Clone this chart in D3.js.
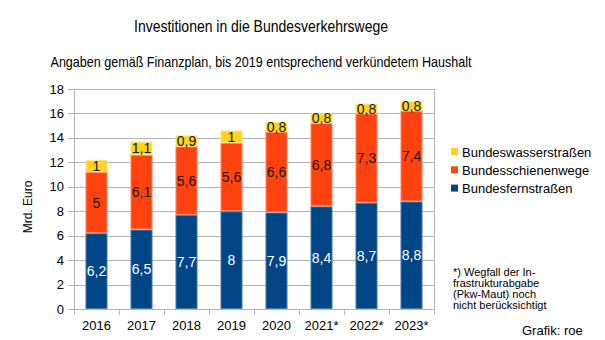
<!DOCTYPE html>
<html>
<head>
<meta charset="utf-8">
<script src="https://cdn.jsdelivr.net/npm/d3@7"></script>
<style>
  body { margin: 0; background: #fff; }
  svg { font-family: "Liberation Sans", Arial, sans-serif; }
</style>
</head>
<body>
<svg id="chart" width="605" height="340"></svg>
<script>
// Investitionen in Mrd. Euro je Verkehrsträger
var jahre = ["2016", "2017", "2018", "2019", "2020", "2021*", "2022*", "2023*"];
var fernstrassen = [6.2, 6.5, 7.7, 8, 7.9, 8.4, 8.7, 8.8];
var schienenwege = [5, 6.1, 5.6, 5.6, 6.6, 6.8, 7.3, 7.4];
var wasserstrassen = [1, 1.1, 0.9, 1, 0.8, 0.8, 0.8, 0.8];
var yTicks = [0, 2, 4, 6, 8, 10, 12, 14, 16, 18];

var reihen = [
    { name: "Bundesfernstraßen", werte: fernstrassen, farbe: "#004586", rand: "#4a7fb3", schrift: "#ffffff" },
    { name: "Bundesschienenwege", werte: schienenwege, farbe: "#ff420e", rand: "#ff8a66", schrift: "#1a1a1a" },
    { name: "Bundeswasserstraßen", werte: wasserstrassen, farbe: "#ffd320", rand: "#ffe680", schrift: "#1a1a1a" }
];

var svg = d3.select("#chart");
var plotLeft = 74, plotRight = 434, plotTop = 89, plotBottom = 309;

var x = d3.scaleBand().domain(jahre).range([plotLeft, plotRight]).paddingInner(0.51).paddingOuter(0.255);
var band = d3.scaleBand().domain(jahre).range([plotLeft, plotRight]);
var y = d3.scaleLinear().domain([0, 18]).range([plotBottom, plotTop]);

// titles (narrow font look)
svg.append("text")
    .attr("x", 261).attr("y", 32)
    .attr("text-anchor", "middle")
    .attr("textLength", 254)
    .attr("lengthAdjust", "spacingAndGlyphs")
    .style("font-size", "16px")
    .text("Investitionen in die Bundesverkehrswege");

svg.append("text")
    .attr("x", 261).attr("y", 67)
    .attr("text-anchor", "middle")
    .attr("textLength", 421)
    .attr("lengthAdjust", "spacingAndGlyphs")
    .style("font-size", "15px")
    .text("Angaben gemäß Finanzplan, bis 2019 entsprechend verkündetem Haushalt");

// gridlines
svg.append("g")
    .selectAll("line")
    .data(yTicks)
    .enter()
    .append("line")
    .attr("x1", plotLeft - 6).attr("x2", plotRight)
    .attr("y1", function (d) { return Math.round(y(d)) + 0.5; })
    .attr("y2", function (d) { return Math.round(y(d)) + 0.5; })
    .attr("stroke", "#b3b3b3")
    .attr("stroke-width", 1);

// frame lines left/right
svg.append("line")
    .attr("x1", plotLeft + 0.5).attr("x2", plotLeft + 0.5)
    .attr("y1", plotTop).attr("y2", plotBottom + 6)
    .attr("stroke", "#b3b3b3");
svg.append("line")
    .attr("x1", plotRight + 0.5).attr("x2", plotRight + 0.5)
    .attr("y1", plotTop).attr("y2", plotBottom + 6)
    .attr("stroke", "#b3b3b3");

// x ticks at band borders
svg.append("g")
    .selectAll("line")
    .data(jahre.slice(1))
    .enter()
    .append("line")
    .attr("x1", function (d) { return Math.round(band(d)) + 0.5; })
    .attr("x2", function (d) { return Math.round(band(d)) + 0.5; })
    .attr("y1", plotBottom).attr("y2", plotBottom + 6)
    .attr("stroke", "#b3b3b3");

// y tick labels
svg.append("g")
    .selectAll("text")
    .data(yTicks)
    .enter()
    .append("text")
    .attr("x", 64)
    .attr("y", function (d) { return y(d) + 4.5; })
    .attr("text-anchor", "end")
    .style("font-size", "13px")
    .text(function (d) { return d; });

// x labels
svg.append("g")
    .selectAll("text")
    .data(jahre)
    .enter()
    .append("text")
    .attr("x", function (d) { return x(d) + x.bandwidth() / 2; })
    .attr("y", 330)
    .attr("text-anchor", "middle")
    .style("font-size", "13px")
    .text(function (d) { return d; });

// y axis title
svg.append("text")
    .attr("transform", "translate(32,207) rotate(-90)")
    .attr("text-anchor", "middle")
    .style("font-size", "12px")
    .text("Mrd. Euro");

// stacked bars
var basis = jahre.map(function () { return 0; });
reihen.forEach(function (r) {
    var g = svg.append("g");
    var daten = jahre.map(function (j, i) {
        return { jahr: j, y0: basis[i], y1: basis[i] + r.werte[i], wert: r.werte[i] };
    });
    g.selectAll("rect")
        .data(daten)
        .enter()
        .append("rect")
        .attr("x", function (d) { return x(d.jahr) + 0.5; })
        .attr("y", function (d) { return y(d.y1) + 0.5; })
        .attr("width", x.bandwidth() - 1)
        .attr("height", function (d) { return y(d.y0) - y(d.y1) - 1; })
        .attr("fill", r.farbe)
        .attr("stroke", r.rand)
        .attr("stroke-width", 1);
    g.selectAll("text")
        .data(daten)
        .enter()
        .append("text")
        .attr("x", function (d) { return x(d.jahr) + x.bandwidth() / 2; })
        .attr("y", function (d) { return (y(d.y0) + y(d.y1)) / 2 + 5; })
        .attr("text-anchor", "middle")
        .style("font-size", "14px")
        .attr("fill", r.schrift)
        .text(function (d) { return String(d.wert).replace(".", ","); });
    daten.forEach(function (d, i) { basis[i] = d.y1; });
});

// legend
var legende = svg.append("g")
    .selectAll("g")
    .data(reihen.slice().reverse())
    .enter()
    .append("g")
    .attr("transform", function (d, i) { return "translate(451," + (152 + i * 18.3) + ")"; });

legende.append("rect")
    .attr("x", 0).attr("y", -4)
    .attr("width", 7).attr("height", 7)
    .attr("fill", function (d) { return d.farbe; });

legende.append("text")
    .attr("x", 11).attr("y", 4.5)
    .style("font-size", "13px")
    .text(function (d) { return d.name; });

// footnote
var fussnote = ["*) Wegfall der In-", "frastrukturabgabe", "(Pkw-Maut) noch", "nicht berücksichtigt"];
svg.append("g")
    .selectAll("text")
    .data(fussnote)
    .enter()
    .append("text")
    .attr("x", 453)
    .attr("y", function (d, i) { return 275.5 + i * 11.3; })
    .style("font-size", "11px")
    .text(function (d) { return d; });

svg.append("text")
    .attr("x", 522).attr("y", 335)
    .style("font-size", "13px")
    .text("Grafik: roe");
</script>
</body>
</html>
